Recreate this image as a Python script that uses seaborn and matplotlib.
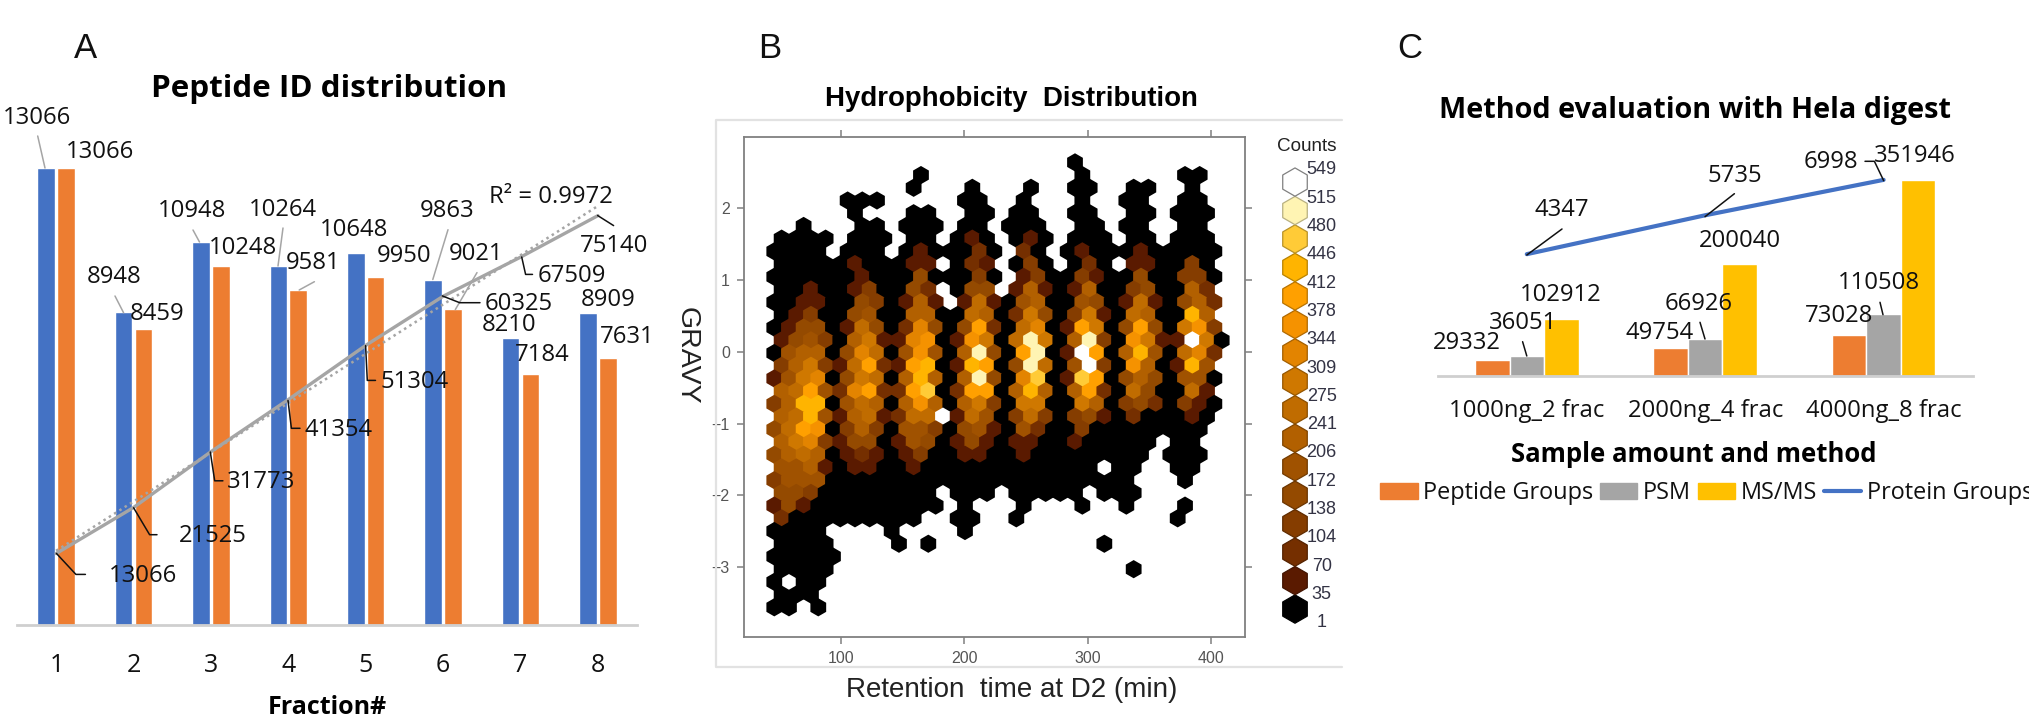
import numpy as np
import pandas as pd
import matplotlib
matplotlib.use("Agg")
import matplotlib.pyplot as plt
from matplotlib.colors import to_rgb
from matplotlib.lines import Line2D
from matplotlib.patches import Patch
import seaborn as sns

# Panel A data
fractions = ["1", "2", "3", "4", "5", "6", "7", "8"]
peptides_blue = [13066, 8948, 10948, 10264, 10648, 9863, 8210, 8909]
peptides_orange = [13066, 8459, 10248, 9581, 9950, 9021, 7184, 7631]
cumulative = [13066, 21525, 31773, 41354, 51304, 60325, 67509, 75140]

# Panel B data: one string per hexagon row, top row first, '.' = empty bin,
# otherwise the colour class 0-f of the bin
hex_rows = [
    "....................0",
    "..........0..........0......00",
    ".........0...0...0..00..00..0",
    ".....000.....00..0...0..00..00",
    ".....0...00..00.00..00..00.000",
    "..0...00.000.00.000..00.00..00",
    "0000.000.00.010.010.000.00.000",
    "0000.000.0100020.20.01000100000",
    "00000100011.021.030.020.110030",
    "0000001000400030.13003100400330",
    "00100130042.044.16101600340062",
    "001100430161.171056005401710462",
    "0130045006600760284038107600c6",
    "01440174029404b207901b804b408a3",
    "1453068119a01a807e806e30a811f80",
    "0566049705a506e40be01fb06c50792",
    "368317b21bc01cb04e705f30a601c5",
    "1589048706c606e409d01db04640550",
    "67b529b22bd02bb06c606b20740071",
    "36cc057606a60683088008603420310",
    "67c51671277f175037303410200010",
    "47ba03630553045105200300000000",
    "68931440154014101100100000.00",
    "46760121013001100100000000.000",
    "5561011001000000000000.00..00",
    "3555000000000000000000000...0",
    "44300000000.000.00000.000",
    "141000000000.0...0...0..0...0",
    "2000000000..00..0..........0",
    "0000....0....0",
    "0000....0.0...........0",
    "00000",
    "0000....................0",
    "0.00",
    "000",
    "00.0",
]
count_breaks = [549, 515, 480, 446, 412, 378, 344, 309, 275, 241, 206, 172, 138, 104, 70, 35, 1]
hex_colors = ["#000000", "#5a1a00", "#752f00", "#853d00", "#944a00", "#a05200", "#b26000", "#c06c00",
              "#cf7800", "#e38400", "#f59200", "#ffa000", "#ffb400", "#ffcb37", "#fff4b3", "#ffffff"]

# Panel C data
samples = ["1000ng_2 frac", "2000ng_4 frac", "4000ng_8 frac"]
peptide_groups = [29332, 49754, 73028]
psm = [36051, 66926, 110508]
msms = [102912, 200040, 351946]
protein_groups = [4347, 5735, 6998]

BLUE, ORANGE, GREY, YELLOW = "#4472c4", "#ed7d31", "#a5a5a5", "#ffc000"
W, H = 2029, 716
OFFICE = "Open Sans"
ARIAL = "Liberation Sans"

sns.set_style("white")
plt.rcParams["font.family"] = [OFFICE, "DejaVu Sans"]
fig = plt.figure(figsize=(W / 100, H / 100), dpi=100)


# all helpers below work in pixels of the finished picture
def px_axes(left, top, right, bottom):
    return fig.add_axes([left / W, 1 - bottom / H, (right - left) / W, (bottom - top) / H])


def put(x, y, s, size=17.2, **kw):
    kw.setdefault("color", "#111111")
    fig.text(x / W, 1 - y / H, s, ha=kw.pop("ha", "center"), va="center", fontsize=size, **kw)


def leader(points, color="#111111", lw=1.1):
    xs = [p[0] / W for p in points]
    ys = [1 - p[1] / H for p in points]
    fig.add_artist(Line2D(xs, ys, color=color, lw=lw))


def baseline(ax):
    sns.despine(ax=ax, left=True, top=True, right=True)
    ax.spines["bottom"].set_color("#cfcfcf")
    ax.spines["bottom"].set_linewidth(2)
    ax.set(xlabel="", ylabel="", yticks=[])
    ax.set_xticks(ax.get_xticks())
    ax.tick_params(axis="x", length=0, pad=0)
    ax.set_xticklabels([])


# ---- A: Peptide ID distribution
ax_a = px_axes(17.4, 100, 636.6, 624.7)
df_a = pd.DataFrame({
    "fraction": fractions * 2,
    "ids": peptides_blue + peptides_orange,
    "series": ["blue"] * 8 + ["orange"] * 8,
})
sns.barplot(data=df_a, x="fraction", y="ids", hue="series", palette=[BLUE, ORANGE], width=0.51, gap=0.105,
            saturation=1, legend=False, ax=ax_a)
ax_a.set_xlim(-0.5, 7.5)
ax_a.set_ylim(0, 15011)
baseline(ax_a)

ax_a2 = ax_a.twinx()
x_a = np.arange(len(fractions))
sns.regplot(x=x_a, y=cumulative, scatter=False, ci=None, color=GREY,
            line_kws={"lw": 1.8, "ls": (0, (1, 1.5))}, ax=ax_a2)
sns.lineplot(x=x_a, y=cumulative, color=GREY, lw=2.4, ax=ax_a2)
ax_a2.set_xlim(-0.5, 7.5)
ax_a2.set_ylim(0, 96382)
ax_a2.axis("off")

# labels of the bars
blue_xy = [(36.9, 117.8), (114, 277), (192, 211.4), (282.7, 210.5), (354.3, 229.7), (447.5, 211.4), (508.7, 324.7), (608, 300.5)]
orange_xy = [(99.7, 152.5), (157, 313.7), (242.8, 248), (313, 263), (404, 255.7), (475.7, 254.3), (542, 354.8), (627, 337.4)]
line_xy = [(143, 575.8), (212.5, 535.6), (261.5, 482.2), (339, 429.7), (415, 381.7), (519, 303.7), (571.6, 276.3), (613.6, 245.7)]
for value, (x, y) in zip(peptides_blue, blue_xy):
    put(x, y, str(value))
for value, (x, y) in zip(peptides_orange, orange_xy):
    put(x, y, str(value))
for value, (x, y) in zip(cumulative, line_xy):
    put(x, y, str(value))
for seg in [[(37.7, 136), (45, 168)], [(115, 296), (123.6, 312.8)], [(193, 230), (199.5, 242)], [(283, 228), (278, 266)],
            [(448, 229.7), (432.8, 279.5)], [(314.4, 281.7), (299.2, 290)], [(477, 272.6), (455.3, 309.6)]]:
    leader(seg, color=GREY)
for seg in [[(56.4, 553.4), (75.9, 574.4), (85.4, 574.4)], [(133.6, 507.8), (149.6, 534.7), (157, 534.7)],
            [(210.3, 452), (214.7, 480.8), (222.9, 480.8)], [(288, 400.5), (291.4, 428.3), (300, 428.3)],
            [(365.6, 345.7), (367.3, 380.4), (375.5, 380.4)], [(442.3, 295.9), (459.7, 302.7), (480, 302.7)],
            [(521.7, 257), (525.6, 274.4), (532.5, 274.4)], [(597.6, 215.5), (613.6, 225.6)]]:
    leader(seg)
put(550.7, 196.8, "R² = 0.9972")
put(85.9, 49, "A", size=25, family=ARIAL)
put(328.9, 89, "Peptide ID distribution", size=22.6, fontweight="bold", color="black")
for name, i in zip(fractions, x_a):
    put(56.4 + 77.3 * i, 665, name, size=18)
put(327, 707, "Fraction#", size=18, fontweight="bold", color="black")

# ---- B: Hydrophobicity Distribution
for seg in [[(1342, 119.5), (716.4, 119.5), (716.4, 667), (1342, 667)]]:
    leader(seg, color="#e2e2e2", lw=1.6)

ax_b = px_axes(743.7, 136.7, 1245, 637)
cells = []
for i, row in enumerate(hex_rows):
    r = len(hex_rows) - 1 - i
    for k, ch in enumerate(row):
        if ch != ".":
            cells.append((45.9 + 11.895 * (k + 0.5 * (r % 2)), -3.555 + 0.1768 * r, int(ch, 16)))
df_b = pd.DataFrame(cells, columns=["rt", "gravy", "level"])
sns.scatterplot(data=df_b, x="rt", y="gravy", hue="level", palette=dict(enumerate(hex_colors)), marker="h", s=172,
                linewidth=0, legend=False, ax=ax_b)
ax_b.set_xlim(21.1, 427.6)
ax_b.set_ylim(-3.968, 2.99)
ax_b.set_xticks([100, 200, 300, 400])
ax_b.set_yticks([-3, -2, -1, 0, 1, 2])
ax_b.set(xlabel="", ylabel="")
ax_b.tick_params(left=True, right=True, top=True, bottom=True, direction="out", length=5, width=1.1, color="#808080",
                 labelsize=11.5, labelcolor="#555555", pad=5)
for label in ax_b.get_xticklabels() + ax_b.get_yticklabels():
    label.set_family(ARIAL)
for side in ax_b.spines.values():
    side.set_color("#808080")
    side.set_linewidth(1.3)

# colour key: each hexagon gets a darker rim of its own colour
key_edges = [tuple(0.72 * c for c in to_rgb(col)) for col in hex_colors[:-1]] + ["#808080"]
ax_key = px_axes(1270, 165, 1320, 625)
sns.scatterplot(x=[0] * len(hex_colors), y=range(len(hex_colors)), hue=range(len(hex_colors)),
                palette=dict(enumerate(hex_colors)), marker="h", s=416, edgecolor=key_edges, linewidth=0.9,
                legend=False, clip_on=False, ax=ax_key)
ax_key.set_xlim(-1, 1)
ax_key.set_ylim(-0.56, 15.6)
ax_key.axis("off")
for i, value in enumerate(count_breaks):
    put(1321.7, 170 + 28.3 * i, str(value), size=13, family=ARIAL, color="#333344")
put(1306.7, 146.7, "Counts", size=13.6, family=ARIAL, color="#222222")
put(770, 48, "B", size=25, family=ARIAL)
put(1011.3, 98.5, "Hydrophobicity  Distribution", size=19.9, family=ARIAL, fontweight="bold", color="black")
put(1011.7, 689.7, "Retention  time at D2 (min)", size=20, family=ARIAL, color="#222222")
put(686.5, 356, "GRAVY", size=20.5, family=ARIAL, rotation=-90, color="#222222")

# ---- C: Method evaluation with Hela digest
ax_c = px_axes(1437.6, 140, 1972.8, 376)
df_c = pd.DataFrame({
    "sample": samples * 3,
    "value": peptide_groups + psm + msms,
    "kind": ["Peptide Groups"] * 3 + ["PSM"] * 3 + ["MS/MS"] * 3,
})
sns.barplot(data=df_c, x="sample", y="value", hue="kind", palette=[ORANGE, GREY, YELLOW], width=0.58, gap=0,
            saturation=1, legend=False, ax=ax_c)
ax_c.set_xlim(-0.5, 2.5)
ax_c.set_ylim(0, 422940)
baseline(ax_c)

ax_c2 = ax_c.twinx()
sns.lineplot(x=np.arange(len(samples)), y=protein_groups, color=BLUE, lw=3, ax=ax_c2)
ax_c2.set_xlim(-0.5, 2.5)
ax_c2.set_ylim(0, 8420)
ax_c2.axis("off")

c_bar_xy = [(1466.7, 342.7), (1659.6, 332.7), (1839, 315.7), (1523.4, 323.3), (1699, 304), (1879.4, 283.3),
            (1560.4, 295.3), (1740, 240.7), (1915, 156)]
for value, (x, y) in zip(peptide_groups + psm + msms, c_bar_xy):
    put(x, y, str(value))
for value, (x, y) in zip(protein_groups, [(1561.7, 210.3), (1734.4, 176), (1831, 162.3)]):
    put(x, y, str(value))
for seg in [[(1522.6, 341.7), (1526.8, 356)], [(1700, 322.3), (1705, 339)], [(1880, 302.3), (1883, 314.7)],
            [(1562, 229), (1526.8, 255)], [(1734.4, 193.7), (1705, 216.7)], [(1865, 161.3), (1874.4, 161.3), (1883.7, 180.7)]]:
    leader(seg)
for name, i in zip(samples, range(3)):
    put(1526.8 + 178.4 * i, 410.7, name)
put(1410, 48, "C", size=25, family=ARIAL)
put(1694.7, 110.5, "Method evaluation with Hela digest", size=20.8, fontweight="bold", color="black")
put(1693.7, 455, "Sample amount and method", size=18.5, fontweight="bold", color="black")

handles = [Patch(color=ORANGE), Patch(color=GREY), Patch(color=YELLOW), Line2D([], [], color=BLUE, lw=3)]
fig.legend(handles, ["Peptide Groups", "PSM", "MS/MS", "Protein Groups"], loc="center left",
           bbox_to_anchor=(1380 / W, 1 - 493.3 / H), ncol=4, frameon=False, fontsize=16.9, borderpad=0,
           borderaxespad=0, handlelength=1.6, handleheight=0.65, handletextpad=0.22, columnspacing=0.3,
           labelcolor="#111111")

fig.savefig("out.png", dpi=100)
